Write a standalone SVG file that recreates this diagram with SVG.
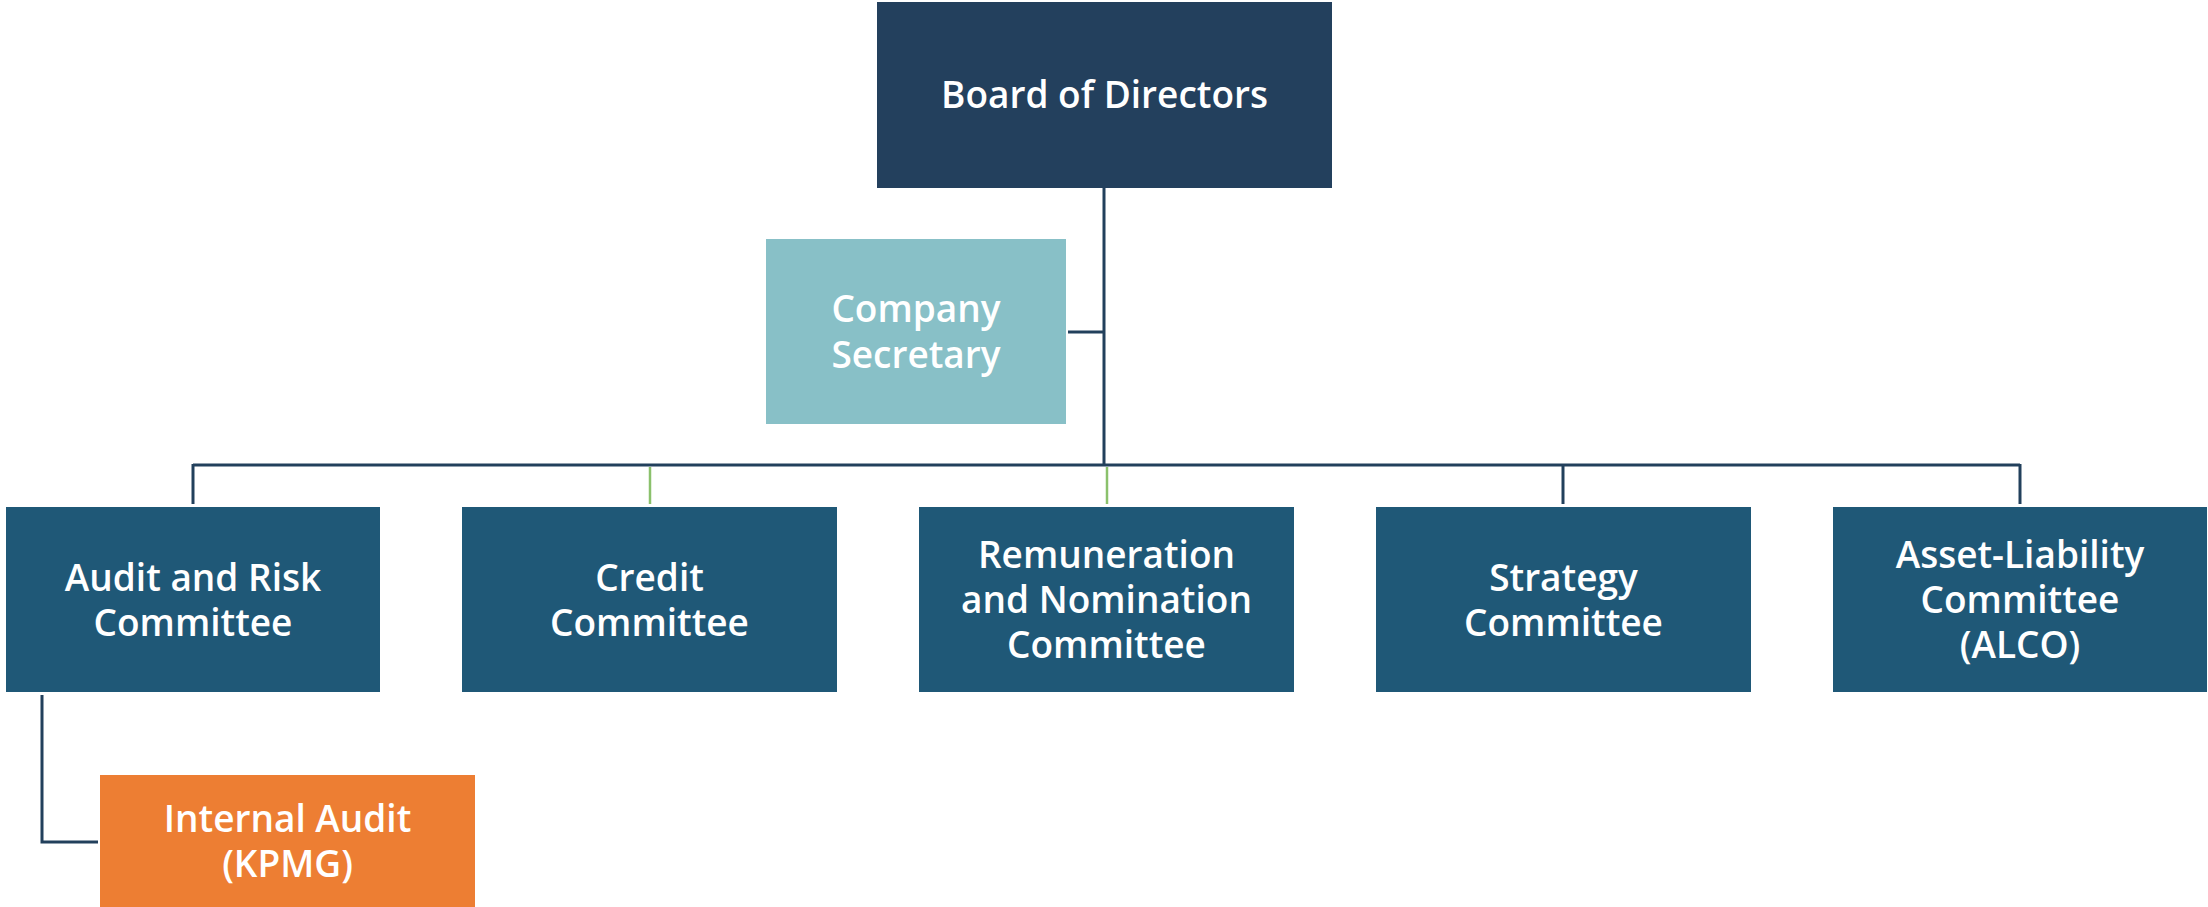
<svg xmlns="http://www.w3.org/2000/svg" width="2208" height="907" viewBox="0 0 2208 907">
  <style>
    .box-board { fill: #23405d; }
    .box-sec { fill: #88c0c7; }
    .box-com { fill: #1f5877; }
    .box-ia { fill: #ed7e33; }
    .lbl { font-family: "Open Sans", "Liberation Sans", sans-serif; font-size: 37px; font-weight: 600; fill: #ffffff; text-anchor: middle; }
    .ln { fill: none; stroke: #22405c; stroke-width: 3; }
    .ln-g { fill: none; stroke: #8bc16c; stroke-width: 2.5; }
  </style>
  <rect width="2208" height="907" fill="#ffffff"/>

  <!-- connectors -->
  <g id="connectors">
    <line class="ln" x1="1104" y1="188" x2="1104" y2="466"/>
    <line class="ln" x1="1068" y1="332" x2="1104" y2="332"/>
    <line class="ln" x1="193" y1="465" x2="2020" y2="465"/>
    <line class="ln" x1="193" y1="464" x2="193" y2="504"/>
    <line class="ln-g" x1="650" y1="467" x2="650" y2="504"/>
    <line class="ln-g" x1="1107" y1="467" x2="1107" y2="504"/>
    <line class="ln" x1="1563" y1="465" x2="1563" y2="504"/>
    <line class="ln" x1="2020" y1="464" x2="2020" y2="504"/>
    <polyline class="ln" points="42,695 42,842 98,842"/>
  </g>

  <g id="board">
    <rect class="box-board" x="877" y="2" width="455" height="186"/>
    <text class="lbl" x="1104.5" y="108">Board of Directors</text>
  </g>

  <g id="company-secretary">
    <rect class="box-sec" x="766" y="239" width="300" height="185"/>
    <text class="lbl" x="916" y="322">Company</text>
    <text class="lbl" x="916" y="368">Secretary</text>
  </g>

  <g id="audit-risk">
    <rect class="box-com" x="6" y="507" width="374" height="185"/>
    <text class="lbl" x="193" y="591">Audit and Risk</text>
    <text class="lbl" x="193" y="636">Committee</text>
  </g>

  <g id="credit">
    <rect class="box-com" x="462" y="507" width="375" height="185"/>
    <text class="lbl" x="649.5" y="591">Credit</text>
    <text class="lbl" x="649.5" y="636">Committee</text>
  </g>

  <g id="remuneration">
    <rect class="box-com" x="919" y="507" width="375" height="185"/>
    <text class="lbl" x="1106.5" y="568">Remuneration</text>
    <text class="lbl" x="1106.5" y="613">and Nomination</text>
    <text class="lbl" x="1106.5" y="658">Committee</text>
  </g>

  <g id="strategy">
    <rect class="box-com" x="1376" y="507" width="375" height="185"/>
    <text class="lbl" x="1563.5" y="591">Strategy</text>
    <text class="lbl" x="1563.5" y="636">Committee</text>
  </g>

  <g id="alco">
    <rect class="box-com" x="1833" y="507" width="374" height="185"/>
    <text class="lbl" x="2020" y="568">Asset-Liability</text>
    <text class="lbl" x="2020" y="613">Committee</text>
    <text class="lbl" x="2020" y="658">(ALCO)</text>
  </g>

  <g id="internal-audit">
    <rect class="box-ia" x="100" y="775" width="375" height="132"/>
    <text class="lbl" x="287.5" y="832">Internal Audit</text>
    <text class="lbl" x="287.5" y="877">(KPMG)</text>
  </g>
</svg>
